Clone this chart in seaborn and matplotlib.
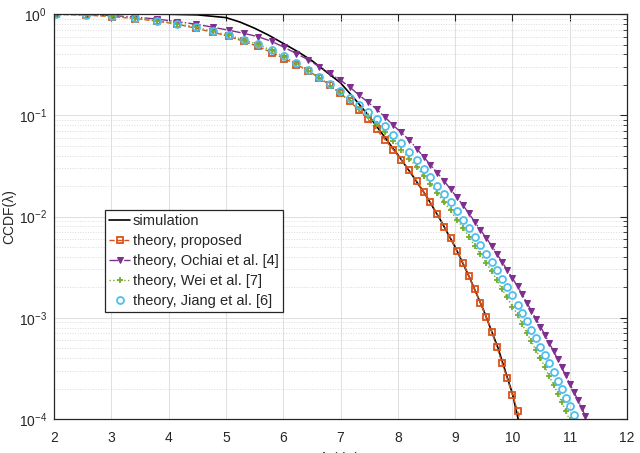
import numpy as np
import matplotlib
matplotlib.use("Agg")
import matplotlib.pyplot as plt
import seaborn as sns

sns.set_theme(style="white")
plt.rcParams["font.family"] = ["Liberation Sans", "DejaVu Sans"]

# ── data ──────────────────────────────────────────────────────
# threshold in dB (theory curves share one grid)
x_db = [2.04, 2.55, 3.01, 3.42, 3.80, 4.15, 4.47, 4.77, 5.05, 5.31,
        5.56, 5.80, 6.02, 6.23, 6.43, 6.63, 6.81, 6.99, 7.16, 7.32,
        7.48, 7.63, 7.78, 7.92, 8.06, 8.20, 8.33, 8.45, 8.57, 8.69,
        8.81, 8.92, 9.03, 9.14, 9.24, 9.34, 9.44, 9.54, 9.64, 9.73,
        9.82, 9.91, 10.00, 10.09, 10.17, 10.25, 10.33, 10.41, 10.49, 10.57,
        10.64, 10.72, 10.79, 10.86, 10.93, 11.00, 11.07, 11.14, 11.21, 11.27,
        11.34]

# log10 CCDF values
sim_x = [2.0, 3.0, 4.0, 4.5, 5.0, 5.25, 5.5, 5.75, 6.0, 6.25, 6.5, 6.75, 7.0,
         7.25, 7.5, 7.75, 8.0, 8.25, 8.5, 8.75, 9.0, 9.25, 9.5, 9.75, 10.0, 10.12]
sim_log = [0.0, -0.0002, -0.002, -0.008, -0.035, -0.08, -0.14, -0.21, -0.29,
           -0.37, -0.46, -0.57, -0.68, -0.84, -1.01, -1.20, -1.39, -1.59, -1.80,
           -2.04, -2.30, -2.60, -2.93, -3.30, -3.75, -4.05]

proposed_log = [-0.003, -0.01, -0.025, -0.045, -0.07, -0.10, -0.14, -0.18, -0.22, -0.27,
                -0.32, -0.38, -0.44, -0.50, -0.56, -0.63, -0.70, -0.78, -0.86, -0.95,
                -1.04, -1.14, -1.245, -1.34, -1.44, -1.54, -1.65, -1.76, -1.86, -1.98,
                -2.10, -2.21, -2.34, -2.46, -2.59, -2.72, -2.85, -2.99, -3.14, -3.29,
                -3.45, -3.60, -3.76, -3.92, -4.08]

ochiai_log = [-0.001, -0.005, -0.015, -0.03, -0.05, -0.075, -0.10, -0.13, -0.16, -0.19,
              -0.224, -0.27, -0.33, -0.39, -0.45, -0.52, -0.585, -0.65, -0.72, -0.80,
              -0.87, -0.94, -1.02, -1.10, -1.17, -1.245, -1.33, -1.41, -1.49, -1.57,
              -1.65, -1.73, -1.81, -1.89, -1.97, -2.05, -2.13, -2.21, -2.29, -2.37,
              -2.45, -2.53, -2.61, -2.69, -2.77, -2.85, -2.93, -3.01, -3.09, -3.17,
              -3.25, -3.33, -3.41, -3.49, -3.57, -3.65, -3.73, -3.81, -3.89, -3.97,
              -4.05]

wei_log = [-0.002, -0.008, -0.02, -0.04, -0.065, -0.095, -0.13, -0.17, -0.21, -0.255,
           -0.30, -0.36, -0.42, -0.49, -0.56, -0.63, -0.71, -0.78, -0.86, -0.94,
           -1.01, -1.09, -1.17, -1.25, -1.34, -1.43, -1.51, -1.60, -1.68, -1.77,
           -1.86, -1.94, -2.03, -2.11, -2.20, -2.29, -2.37, -2.46, -2.54, -2.63,
           -2.72, -2.80, -2.89, -2.97, -3.06, -3.15, -3.23, -3.32, -3.40, -3.49,
           -3.58, -3.66, -3.75, -3.83, -3.92, -4.01]

jiang_log = [-0.002, -0.008, -0.02, -0.04, -0.065, -0.095, -0.13, -0.17, -0.21, -0.255,
             -0.30, -0.355, -0.415, -0.48, -0.55, -0.62, -0.69, -0.76, -0.83, -0.90,
             -0.97, -1.04, -1.11, -1.19, -1.27, -1.36, -1.44, -1.53, -1.61, -1.70,
             -1.78, -1.86, -1.95, -2.03, -2.11, -2.20, -2.28, -2.37, -2.45, -2.53,
             -2.62, -2.70, -2.78, -2.87, -2.95, -3.03, -3.12, -3.20, -3.29, -3.37,
             -3.45, -3.54, -3.62, -3.70, -3.79, -3.87, -3.96, -4.04]

labels = ["simulation", "theory, proposed", "theory, Ochiai et al. [4]",
          "theory, Wei et al. [7]", "theory, Jiang et al. [6]"]

ORANGE = "#D95319"
PURPLE = "#7E2F8E"
GREEN = "#77AC30"
CYAN = "#4DBEEE"
AX_C = "#262626"

# ── figure ─────────────────────────────────────────────────────
fig = plt.figure(figsize=(6.4, 4.53), dpi=100)
ax = fig.add_axes([0.0844, 0.0751, 0.8953, 0.8939])

sns.lineplot(x=sim_x, y=10 ** np.array(sim_log), ax=ax, color="black",
             lw=1.2, label=labels[0], sort=False)
sns.lineplot(x=x_db[:len(proposed_log)], y=10 ** np.array(proposed_log), ax=ax,
             color=ORANGE, lw=1.0, linestyle="--", marker="s", markersize=4.5,
             markerfacecolor="none", markeredgecolor=ORANGE, markeredgewidth=1.3,
             label=labels[1], sort=False)
sns.lineplot(x=x_db[:len(ochiai_log)], y=10 ** np.array(ochiai_log), ax=ax,
             color=PURPLE, lw=1.0, linestyle="-.", marker="v", markersize=5,
             markerfacecolor=PURPLE, markeredgecolor=PURPLE,
             label=labels[2], sort=False)
sns.lineplot(x=x_db[:len(wei_log)], y=10 ** np.array(wei_log), ax=ax,
             color=GREEN, lw=1.0, linestyle=":", marker="+", markersize=5,
             markeredgecolor=GREEN, markeredgewidth=1.3,
             label=labels[3], sort=False)
sns.lineplot(x=x_db[:len(jiang_log)], y=10 ** np.array(jiang_log), ax=ax,
             color=CYAN, linestyle="none", marker="o", markersize=5,
             markerfacecolor="none", markeredgecolor=CYAN, markeredgewidth=1.3,
             label=labels[4], sort=False)

ax.set_yscale("log")
ax.set_xlim(2, 12)
ax.set_ylim(1e-4, 1)
ax.set_xticks(range(2, 13))

ax.grid(True, which="major", color="#dedede", lw=0.7)
ax.grid(True, which="minor", axis="y", color="#dcdcdc", lw=0.7, ls=":")
ax.tick_params(which="both", direction="in", top=True, right=True,
               colors=AX_C, labelsize=10)
ax.tick_params(axis="x", pad=9)
ax.tick_params(axis="y", pad=5)
ax.tick_params(which="major", length=5, width=0.8)
ax.tick_params(which="minor", length=3, width=0.6)
for s in ax.spines.values():
    s.set_color(AX_C)
    s.set_linewidth(0.9)

ax.set_ylabel("CCDF(λ)", fontsize=10, color=AX_C, labelpad=2)
ax.set_xlabel("λ (dB)", fontsize=10, color=AX_C, labelpad=5)

leg = ax.legend(loc="upper left", bbox_to_anchor=(0.089, 0.516), fontsize=10.5,
                frameon=True, fancybox=False, framealpha=1, edgecolor=AX_C,
                handlelength=1.4, handletextpad=0.2, labelspacing=0.4,
                borderpad=0.3, borderaxespad=0)
leg.get_frame().set_linewidth(0.9)

fig.savefig("out.png", dpi=100)
